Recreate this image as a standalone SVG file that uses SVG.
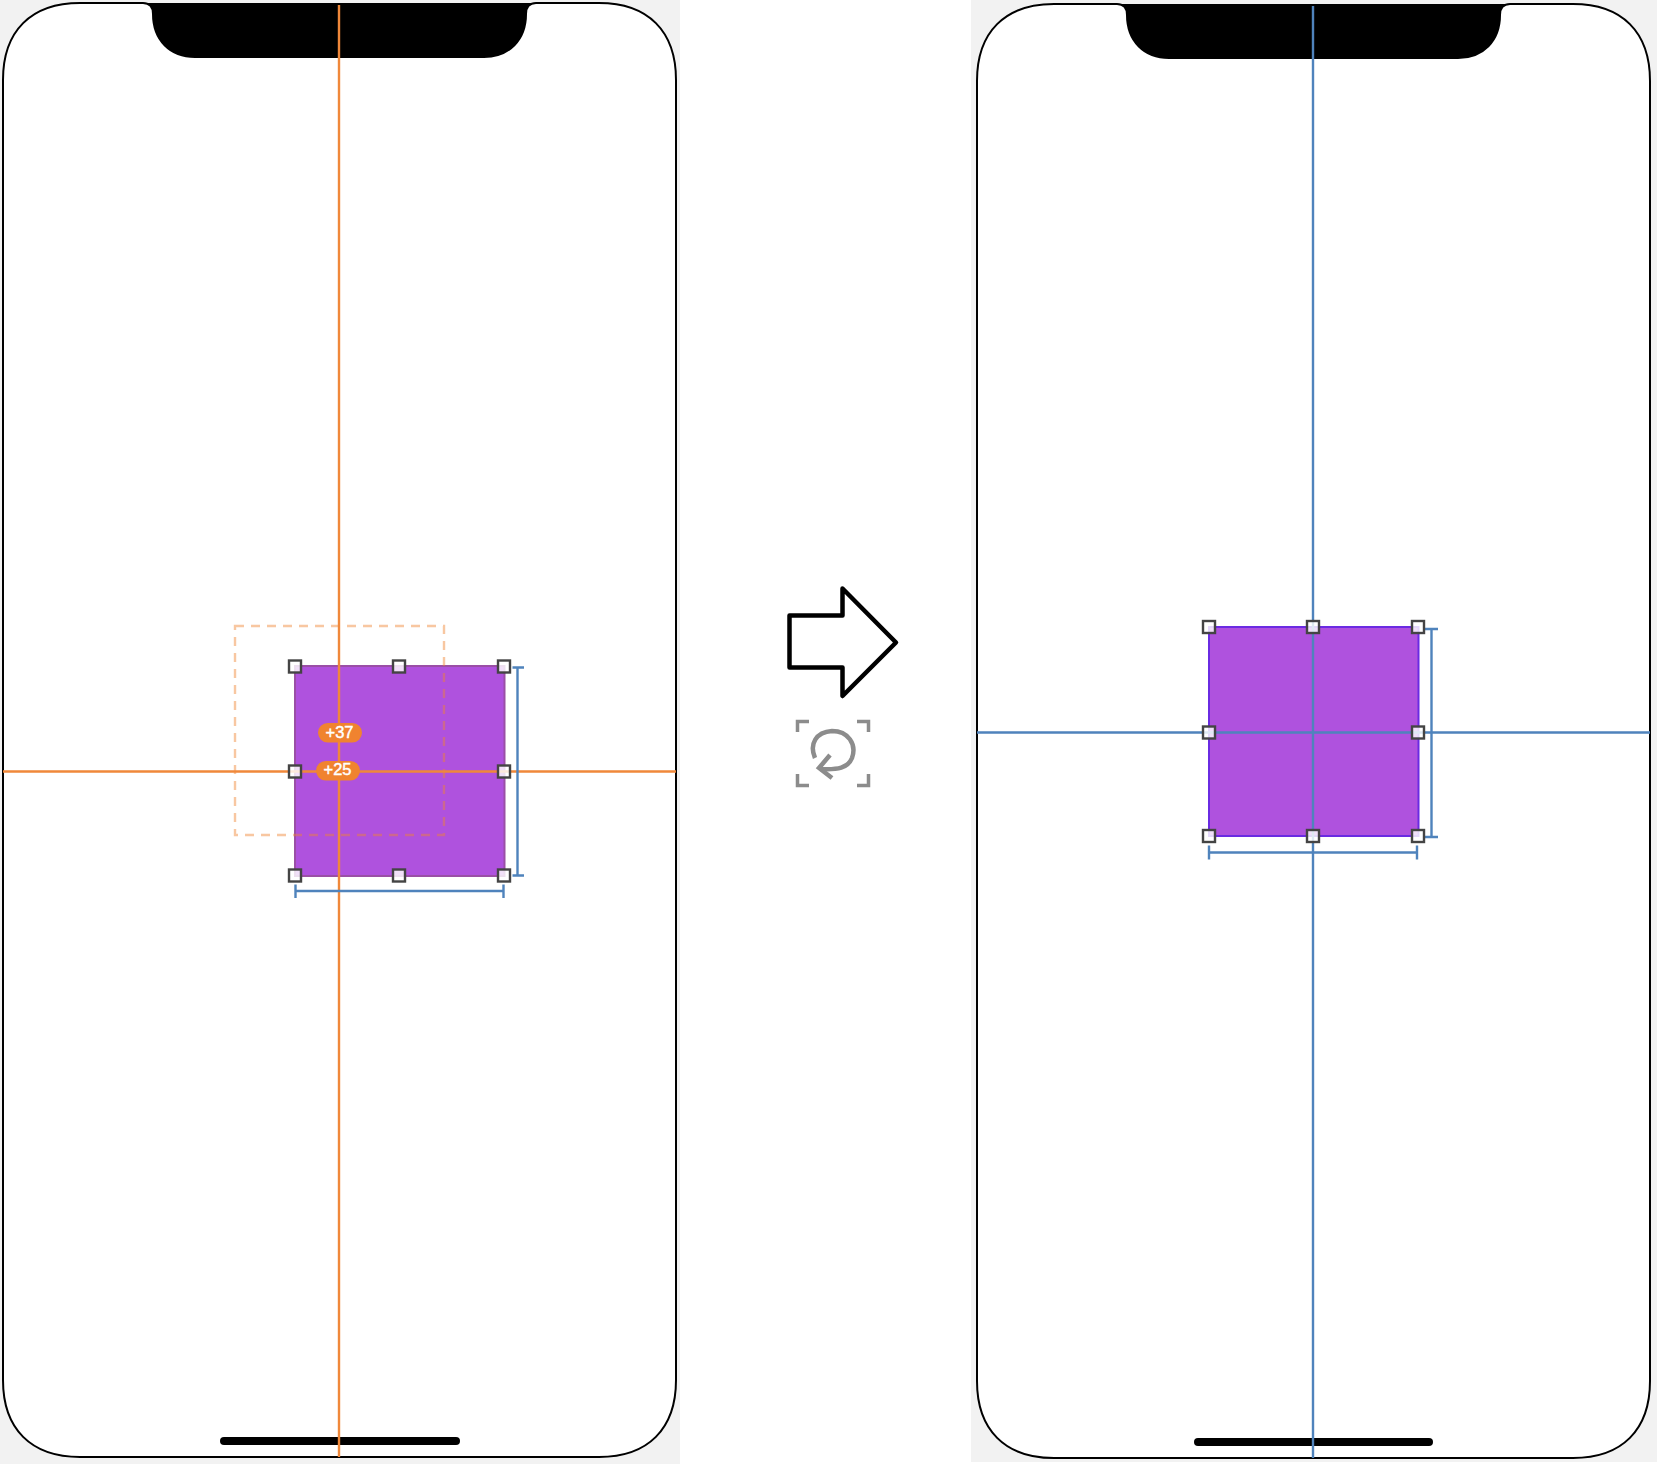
<svg xmlns="http://www.w3.org/2000/svg" width="1664" height="1464" viewBox="0 0 1664 1464">
<defs>
<path id="phone" d="M80 3H143C149 3 153 7 153 14C153 40 170 57 195 57H484C509 57 526 40 526 14C526 7 530 3 536 3H599C648 3 676 31 676 80V1380C676 1429 648 1457 599 1457H80C31 1457 3 1429 3 1380V80C3 31 31 3 80 3Z"/>
<path id="notch" d="M143 3C149 3 153 7 153 14C153 40 170 57 195 57H484C509 57 526 40 526 14C526 7 530 3 536 3Z"/>
<rect id="h" x="-6" y="-6" width="12" height="12"/>
<filter id="soft" x="-10%" y="-10%" width="120%" height="120%"><feGaussianBlur stdDeviation=".6"/></filter>
</defs>
<style>
.body{fill:#fff;stroke:#000;stroke-width:2}
.h{fill:#fff;fill-opacity:.82;stroke:#444;stroke-width:2.400}
.o{stroke:#F0883A;stroke-width:2.400;fill:none}
.b{stroke:#4F83BC;stroke-width:2.400;fill:none}
.badge{fill:#F0832F}
.t{font-family:"Liberation Sans",Arial,sans-serif;font-size:16.500px;fill:#fff;text-anchor:middle;stroke:#fff;stroke-width:.45}
.ic{fill:none;stroke:#8c8c8c;stroke-width:3.500}
</style>
<rect width="1664" height="1464" fill="#fff"/>
<rect width="680" height="1464" fill="#F2F2F2"/>
<rect x="971" width="686" height="1462" fill="#F2F2F2"/>

<g id="phone-before">
<use href="#phone" class="body"/>
<use href="#notch" fill="#000"/>
<rect x="220" y="1437" width="240" height="8" rx="4" fill="#000"/>
</g>
<g id="square-before">
<rect x="295" y="666" width="209.500" height="210" fill="#AF52DE" stroke="#9A4FA6" stroke-width="2"/>
</g>
<g id="target-before">
<rect x="235" y="626" width="209" height="209" fill="none" stroke="#F0832F" stroke-opacity=".45" stroke-width="2.400" stroke-dasharray="9 7"/>
</g>
<g id="phone-after" transform="translate(974 1)">
<use href="#phone" class="body"/>
<use href="#notch" fill="#000"/>
<rect x="220" y="1437" width="239" height="8" rx="4" fill="#000"/>
</g>
<g id="square-after">
<rect x="1209" y="627" width="209.500" height="209" fill="#AF52DE" stroke="#6A2BE2" stroke-width="2"/>
</g>
<g id="connectors">
<path class="o" d="M339 5V1457M3 771.500H676"/>
<path class="b" d="M517.500 667V875.500M512.500 667.500H524M512.500 875.500H524M295.500 891H503.500M295.500 884.500V898M503.500 884.500V898"/>
<path class="b" d="M1313 6V1458M977 732.500H1650"/>
<path class="b" d="M1431.500 629V837M1425 629H1438M1425 837H1438M1209 852.500H1417M1209 845.500V859.500M1417 845.500V859.500"/>
</g>
<g id="handles-before">
<use href="#h" class="h" x="295" y="666.500"/><use href="#h" class="h" x="399" y="666.500"/><use href="#h" class="h" x="504" y="666.500"/>
<use href="#h" class="h" x="295" y="771.500"/><use href="#h" class="h" x="504" y="771.500"/>
<use href="#h" class="h" x="295" y="875.500"/><use href="#h" class="h" x="399" y="875.500"/><use href="#h" class="h" x="504" y="875.500"/>
</g>
<g id="handles-after">
<use href="#h" class="h" x="1209" y="627"/><use href="#h" class="h" x="1313" y="627"/><use href="#h" class="h" x="1418" y="627"/>
<use href="#h" class="h" x="1209" y="732.500"/><use href="#h" class="h" x="1418" y="732.500"/>
<use href="#h" class="h" x="1209" y="836"/><use href="#h" class="h" x="1313" y="836"/><use href="#h" class="h" x="1418" y="836"/>
</g>
<g id="badge-37">
<rect class="badge" x="318" y="723" width="44" height="19.500" rx="9.750"/>
<text class="t" x="339.500" y="737.500">+37</text>
</g>
<g id="badge-25">
<rect class="badge" x="316" y="761" width="44" height="19.500" rx="9.750"/>
<text class="t" x="337.500" y="775">+25</text>
</g>
<g id="arrow">
<path d="M789.500 615.500H842.500V588.500L896 642.500L842.500 696V667.500H789.500Z" fill="#fff" stroke="#000" stroke-width="4.500" stroke-linejoin="round"/>
</g>
<g id="refresh-icon" filter="url(#soft)">
<path class="ic" d="M797.500 732V721.500H809M857 721.500H868.500V732M797.500 774V785.500H809M857 785.500H868.500V774"/>
<path class="ic" style="stroke-width:4.500" d="M815 758C809 744 816 732 832 731C848 731 857 744 852 758C848 768 838 770 820 769"/>
<path class="ic" style="stroke-width:4.500" d="M830 755L819 768L832 778"/>
</g>
</svg>
